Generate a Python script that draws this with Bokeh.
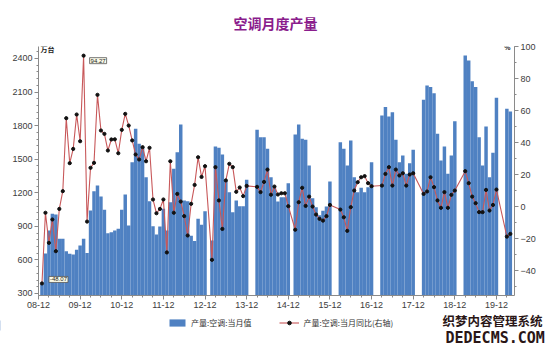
import numpy as np
from bokeh.plotting import figure
from bokeh.layouts import column, row
from bokeh.models import (Range1d, LinearAxis, FixedTicker, Label, Legend,
                          LegendItem, ColumnDataSource)
from bokeh.embed import file_html
from bokeh.resources import INLINE

# ---------------- data (monthly, first value = 2009-01; None = not published) ---------
title_text = "空调月度产量"
series_bar_name = "产量:空调:当月值"
series_line_name = "产量:空调:当月同比(右轴)"

production = [
    380, 657, 863, 1012, 1006, 790, 789, 678, 655, 649, 690, 729,
    789, 661, 1042, 1214, 1265, 1167, 1048, 839, 848, 863, 878, 1048,
    1185, 908, 1473, 1772, 1638, 1608, 1339, 1125, 901, 827, 898, 1057,
    863, 1116, 1414, 1563, 1810, 1131, 1124, 815, 770, 967, 915, 1035,
    None, 774, 1614, 1602, 1542, 1310, 1205, 1027, 1131, 1080, 1080, 1316,
    None, None, 1763, 1697, 1697, 1593, 1339, 1250, 1122, 1161, 1161, 1286,
    None, 1721, 1810, 1682, 1673, 1444, 1150, 1071, 1000, 1040, 1077, 1300,
    None, None, 1652, 1593, 1444, 1667, 1339, 1205, 1244, 1205, 1250, 1473,
    None, None, 1891, 1966, 1882, 1920, 1674, 1473, 1533, 1370, 1464, 1584,
    None, None, 2031, 2159, 2144, 2090, 1727, 1488, 1614, 1370, 1533, 1840,
    None, None, 2427, 2382, 2197, 2144, 1697, 1444, 1792, 1339, 1557, 2049,
    None, None, 1951, 1926,
]

yoy = [
    -48.07, -3.9, -22.7, -8.1, -27.9, -1.5, 9.6, 55.2, 27.1, 36.0, 57.5, 40.8,
    94.27, -9.4, 24.2, 27.3, 69.8, 47.5, 45.4, 35.0, 41.9, 42.0, 33.3, 47.9,
    57.9, 50.6, 41.3, 32.5, 29.4, 37.1, 28.3, 36.7, 4.4, -4.2, -1.5, 4.4,
    -28.7, 28.3, -3.9, 7.9, 3.1, -6.0, -18.1, 1.7, 13.5, 30.8, 18.5, 25.2,
    None, -33.3, 24.6, 3.8, -14.0, 16.3, 26.7, 24.6, 9.2, 11.9, 6.5, 12.9,
    None, None, 12.3, 9.0, 15.4, 23.1, 7.4, 12.5, 7.5, 8.3, 8.3, 0.2,
    None, -14.5, 2.7, 11.7, 0.4, 6.2, 0.0, -5.0, -7.7, -8.8, -6.0, 1.0,
    None, None, -1.9, -6.7, -15.2, -0.4, 10.0, 15.2, 18.3, 19.0, 14.6, 12.7,
    None, None, 13.1, 20.4, 24.6, 13.1, 23.1, 19.4, 20.8, 13.1, 20.0, 20.8,
    None, None, 7.9, 9.4, 18.3, 12.1, 3.8, -0.8, 9.0, -0.8, 7.3, 10.0,
    None, None, 22.1, 14.6, 6.2, 2.1, -3.5, -3.5, 10.4, -2.5, 1.0, 10.6,
    None, None, -18.8, -17.1,
]

year_labels = ["08-12", "09-12", "10-12", "11-12", "12-12", "13-12",
               "14-12", "15-12", "16-12", "17-12", "18-12", "19-12"]
left_ticks = [300, 600, 900, 1200, 1500, 1800, 2100, 2400]
right_ticks = [-40, -20, 0, 20, 40, 60, 80, 100]
watermark = ["织梦内容管理系统", "DEDECMS.COM"]

# month index: 0 = 2008-12
m = np.arange(1, len(production) + 1)
prod = np.array([np.nan if v is None else v for v in production], dtype=float)
yy = np.array([np.nan if v is None else v for v in yoy], dtype=float)
okb = ~np.isnan(prod)
okl = ~np.isnan(yy)

bar_src = ColumnDataSource(dict(x=m[okb], top=prod[okb]))
line_src = ColumnDataSource(dict(x=m[okl], y=yy[okl]))

LEFT_MIN, LEFT_MAX = 282, 2507
RIGHT_MIN, RIGHT_MAX = -55.6, 100
BAR_COLOR = "#4f81c2"
LINE_COLOR = "#c8585a"
MARK_COLOR = "#111111"


def strip(h, top):
    """A blank full-width figure whose data coords equal page pixels."""
    f = figure(width=550, height=h, output_backend="svg", toolbar_location=None,
               x_range=Range1d(0, 550), y_range=Range1d(top + h, top),
               min_border=0, x_axis_type=None, y_axis_type=None)
    f.outline_line_color = None
    f.xgrid.grid_line_color = None
    f.ygrid.grid_line_color = None
    return f


# ---------------- title strip ----------------
t = strip(40, 0)
t.add_layout(Label(x=275, y=22, text=title_text, text_font="Noto Sans CJK SC",
                   text_font_size="14px", text_font_style="bold",
                   text_color="#8a1c8c", text_align="center",
                   text_baseline="middle"))

# ---------------- main chart ----------------
p = figure(width=550, height=272, output_backend="svg", toolbar_location=None,
           x_range=Range1d(0, 137.2), y_range=Range1d(LEFT_MIN, LEFT_MAX),
           min_border_left=38, min_border_right=36, min_border_top=6,
           min_border_bottom=17, x_axis_type=None, y_axis_type=None)
p.outline_line_color = None
p.background_fill_color = "white"
p.border_fill_color = "white"

p.extra_y_ranges = {"right": Range1d(RIGHT_MIN, RIGHT_MAX)}

axis_col = "#8a8a8a"
lab_col = "#3c3c3c"
tick_font = "Liberation Sans"

xt = [12 * i for i in range(len(year_labels))]
xminor = [3 * i for i in range(0, 46)]
xax = LinearAxis(ticker=FixedTicker(ticks=xt, minor_ticks=xminor))
xax.major_label_overrides = {tk: lab for tk, lab in zip(xt, year_labels)}
p.add_layout(xax, "below")

lax = LinearAxis(ticker=FixedTicker(ticks=left_ticks,
                                    minor_ticks=list(range(300, 2507, 60))))
p.add_layout(lax, "left")

rax = LinearAxis(y_range_name="right",
                 ticker=FixedTicker(ticks=right_ticks,
                                    minor_ticks=list(range(-50, 101, 10))))
p.add_layout(rax, "right")

for ax in (xax, lax, rax):
    ax.axis_line_color = axis_col
    ax.major_tick_line_color = axis_col
    ax.minor_tick_line_color = axis_col
    ax.major_tick_out = 4
    ax.major_tick_in = 0
    ax.minor_tick_out = 2
    ax.minor_tick_in = 0
    ax.major_label_text_font = tick_font
    ax.major_label_text_font_size = "9px"
    ax.major_label_text_color = lab_col
    ax.major_label_standoff = 2

p.ygrid.ticker = FixedTicker(ticks=left_ticks)
p.ygrid.grid_line_color = "#ececec"
p.xgrid.grid_line_color = None

p.vbar(x="x", top="top", bottom=LEFT_MIN, width=1.0, source=bar_src,
       fill_color=BAR_COLOR, line_color=None)
p.line(x="x", y="y", source=line_src, y_range_name="right",
       line_color=LINE_COLOR, line_width=1.1)
p.scatter(x="x", y="y", source=line_src, y_range_name="right",
          marker="circle", size=3.2, fill_color=MARK_COLOR,
          line_color=MARK_COLOR)

p.add_layout(Label(x=0.6, y=LEFT_MAX, text="万台", text_font="Noto Sans CJK SC",
                   text_font_size="7px", text_font_style="bold",
                   text_color="#222222", text_baseline="middle", y_offset=-2))
p.add_layout(Label(x=137.2, y=RIGHT_MAX, y_range_name="right", text="%",
                   text_font=tick_font, text_font_size="7px",
                   text_font_style="bold", text_color="#222222",
                   text_align="right", text_baseline="middle", x_offset=-4,
                   y_offset=-1))

i_max = int(np.nanargmax(yy))
i_min = int(np.nanargmin(yy))
for i, dx, dy in ((i_max, 6, -5), (i_min, 7, 4)):
    p.add_layout(Label(x=m[i], y=yy[i], y_range_name="right",
                       text=f"{yy[i]:.2f}", text_font=tick_font,
                       text_font_size="6px", text_color="#222222",
                       text_baseline="middle", x_offset=dx, y_offset=dy,
                       background_fill_color="#fbfbe8",
                       border_line_color="#555555", border_line_width=0.8,
                       padding=1))

# ---------------- legend strip below the chart ----------------
q = strip(39, 312)
lb = q.vbar(x=[-900], top=[330], bottom=[320], width=1, fill_color=BAR_COLOR,
            line_color=None)
ll = q.line(x=[-910, -900], y=[320, 320], line_color=LINE_COLOR,
            line_width=1.1)
lp = q.scatter(x=[-900], y=[320], marker="circle", size=3.2,
               fill_color=MARK_COLOR, line_color=MARK_COLOR)
legend = Legend(items=[LegendItem(label=series_bar_name, renderers=[lb]),
                       LegendItem(label=series_line_name, renderers=[ll, lp])],
                orientation="horizontal", location=(167, 23),
                label_text_font="Noto Sans CJK SC", label_text_font_size="8px",
                label_text_color="#333333", glyph_width=20, glyph_height=9,
                label_standoff=4, spacing=28, border_line_color=None,
                background_fill_alpha=0, margin=0, padding=3)
q.add_layout(legend, "center")

q.add_layout(Label(x=442, y=329, text=watermark[0],
                   text_font="Noto Sans CJK SC", text_font_size="12.5px",
                   text_font_style="bold", text_color="#2a1616",
                   text_baseline="bottom"))
q.add_layout(Label(x=445, y=346, text=watermark[1],
                   text_font="DejaVu Sans Mono", text_font_size="15px",
                   text_font_style="bold", text_color="#2a1616",
                   text_baseline="bottom"))

layout = column(row(t), row(p), row(q), spacing=0)
open("out.html", "w").write(file_html(layout, INLINE))
